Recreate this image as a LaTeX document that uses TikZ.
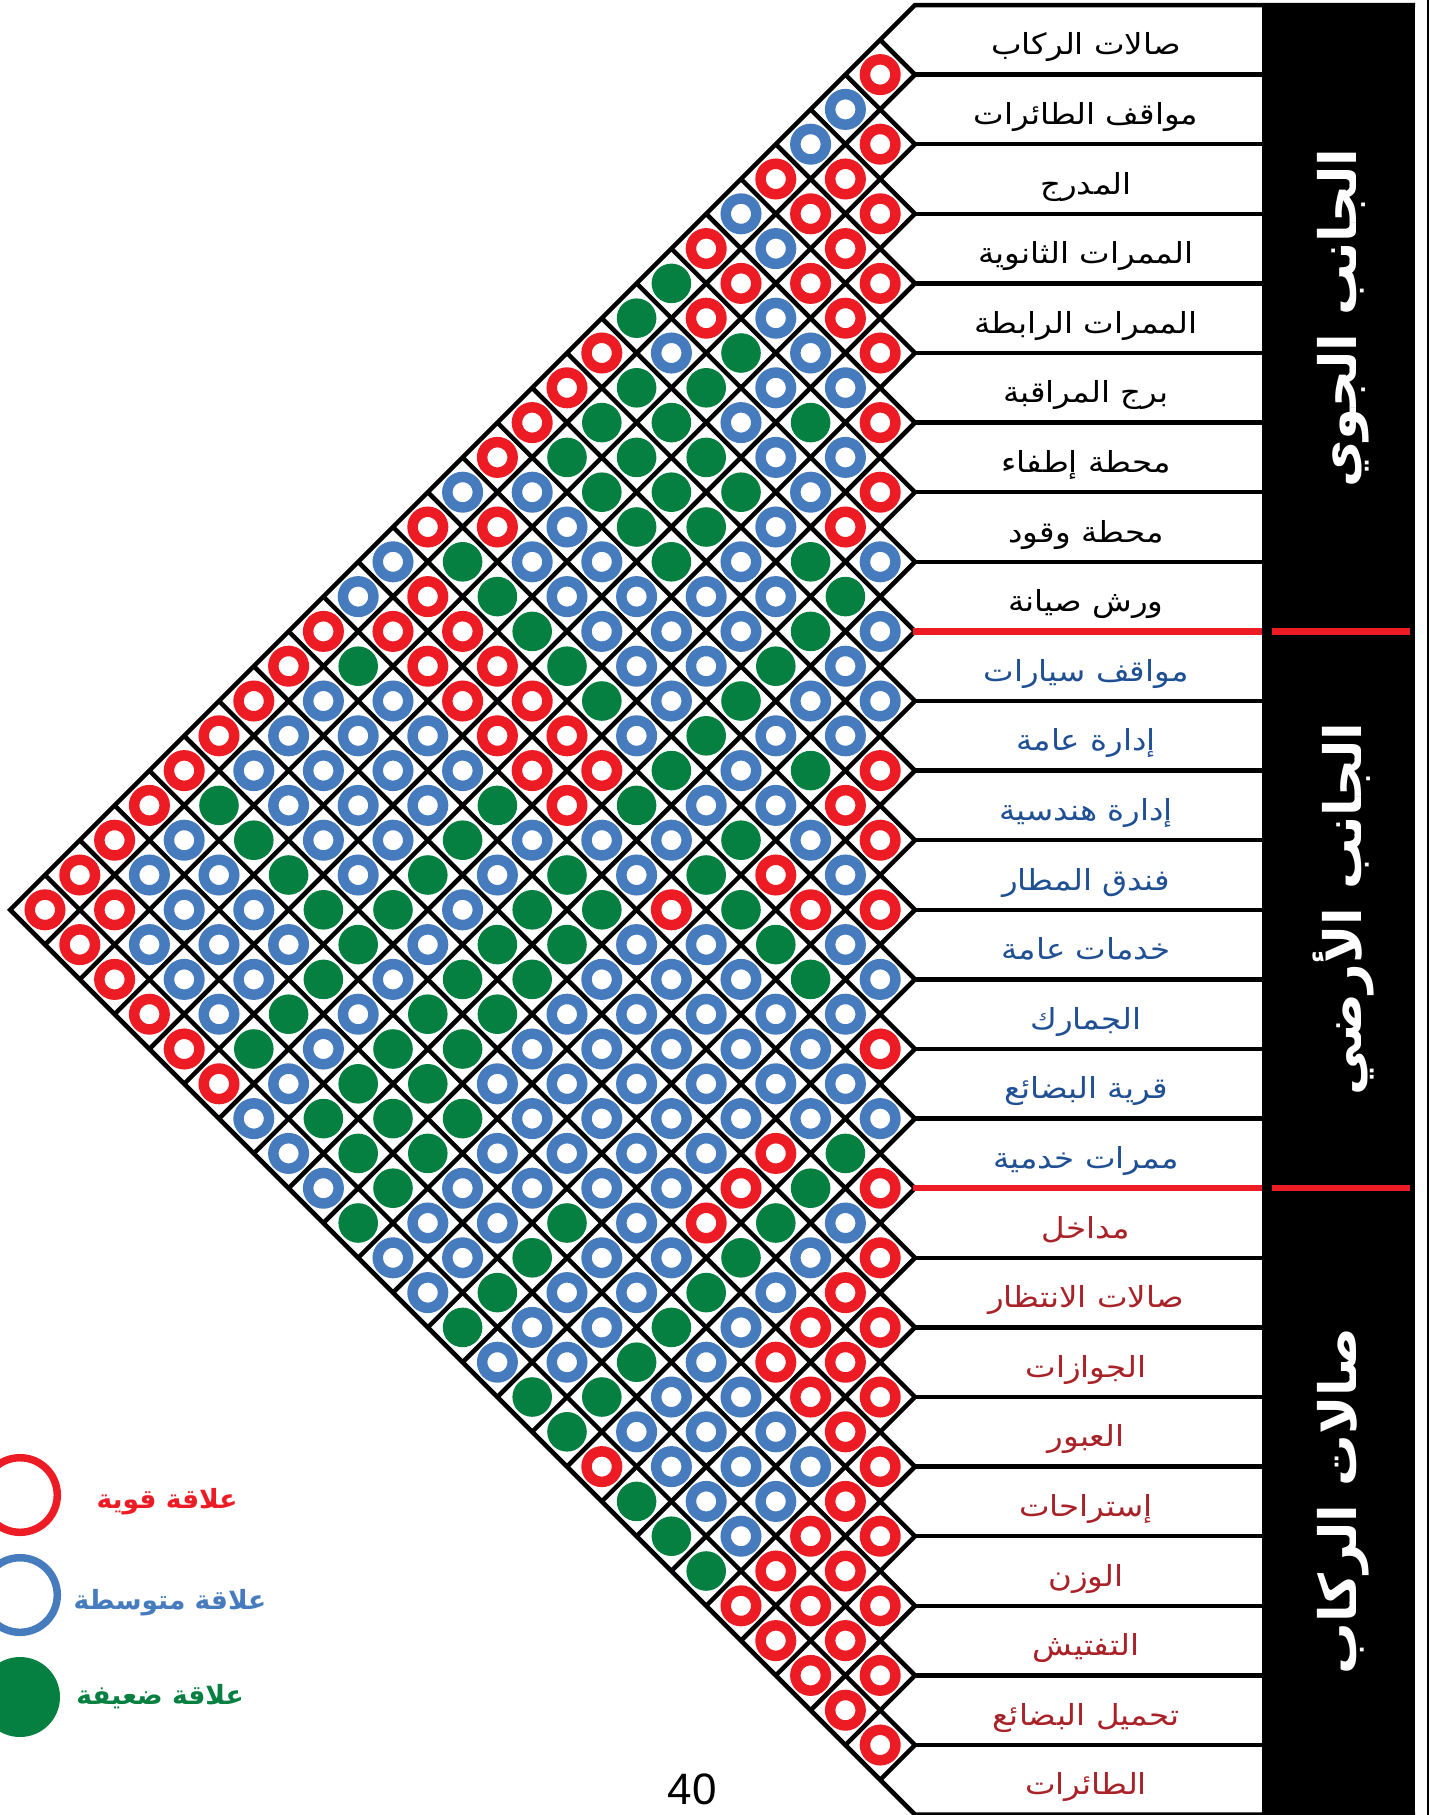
\documentclass[tikz,border=0pt]{standalone}
\usepackage{fontspec}
\setmainfont{Liberation Sans}
\newfontfamily\arabicfont[Script=Arabic]{DejaVu Sans}
\TeXXeTstate=1
\newcommand\artext[1]{{\arabicfont\beginR #1\endR}}

\definecolor{ringred}{RGB}{237,28,36}
\definecolor{ringblue}{RGB}{70,124,190}
\definecolor{diskgreen}{RGB}{6,128,64}
\definecolor{labblue}{RGB}{32,80,148}
\definecolor{labred}{RGB}{168,34,40}

\tikzset{
  gridline/.style={line width=4.5pt, black, line join=miter},
  relR/.style={circle, inner sep=0pt, minimum size=30.5pt, draw=ringred, line width=10.5pt, fill=white},
  relB/.style={circle, inner sep=0pt, minimum size=30.5pt, draw=ringblue, line width=10.5pt, fill=white},
  relG/.style={circle, inner sep=0pt, minimum size=39.6pt, fill=diskgreen},
  rowlabel/.style={font=\fontsize{29}{34}\selectfont, inner sep=0pt, anchor=base, xscale=1.12},
  bandlabel/.style={font=\fontsize{51.5}{58}\selectfont\bfseries, text=white, inner sep=0pt, rotate=90},
  keytext/.style={font=\fontsize{26.5}{32}\selectfont\bfseries, inner sep=0pt},
  separator/.style={line width=6.5pt, ringred}
}

\begin{document}
\begin{tikzpicture}[x=1pt, y=-1pt]
\useasboundingbox (0,0) rectangle (1431,1815);

% outer outline of the triangular matrix and the top / bottom rules
\draw[gridline] (1415,5) -- (915,5) -- (10.2,909.8) -- (915,1814.6) -- (1415,1814.6);

% diagonal grid lines, one pair from every row boundary
\foreach \k in {1,...,25} {
  \draw[gridline] ({915-34.8*(26-\k)},{5+34.8*(26+\k)}) -- (915,{5+69.6*\k}) -- ({915-34.8*\k},{5+34.8*\k});
}

% horizontal rules of the label column
\foreach \k in {1,...,8,10,11,...,16,18,19,...,25} {
  \draw[gridline] (915,{5+69.6*\k}) -- (1265,{5+69.6*\k});
}

% black band with the group titles
\fill[black] (1262,2.75) rectangle (1415,1815);
\draw[line width=2pt] (1428,0) -- (1428,1815);

% red rules between the three groups
\foreach \k in {9,17} {
  \draw[separator] (913,{5+69.6*\k}) -- (1262,{5+69.6*\k});
  \draw[separator] (1272,{5+69.6*\k}) -- (1410,{5+69.6*\k});
}

% relation marks, listed level by level (top to bottom), nearest column first
\foreach \lv/\cells in {
 2/{R}, 3/{B}, 4/{R,B}, 5/{R,R}, 6/{R,R,B}, 7/{R,B,R}, 8/{R,R,R,G}, 9/{R,B,R,G},
 10/{R,B,G,B,R}, 11/{B,B,G,G,R}, 12/{R,G,B,G,G,R}, 13/{B,B,G,G,G,R},
 14/{R,B,G,G,G,B,B}, 15/{R,B,G,G,B,R,R}, 16/{B,G,B,G,B,B,G,B}, 17/{G,B,B,B,B,G,R,B},
 18/{B,G,B,B,B,G,R,R,R}, 19/{B,G,B,B,G,R,R,G,R}, 20/{B,B,G,B,G,R,R,B,B,R},
 21/{B,B,G,B,R,R,B,B,B,R}, 22/{R,G,B,G,R,R,B,B,B,B,R}, 23/{R,B,B,G,R,G,B,B,B,G,R},
 24/{R,B,G,B,B,B,G,B,B,G,B,R}, 25/{B,R,G,B,G,B,G,B,G,B,B,R},
 26/{R,R,G,R,G,G,B,G,G,B,B,R,R}, 27/{B,G,B,B,G,G,B,G,B,B,B,R},
 28/{B,G,B,B,B,G,G,B,G,B,B,R}, 29/{B,B,B,B,B,G,G,B,G,B,R},
 30/{R,B,B,B,B,B,G,G,B,G,R}, 31/{B,B,B,B,B,B,G,G,B,R}, 32/{B,B,B,B,B,B,G,G,G,B},
 33/{G,R,B,B,B,B,G,G,B}, 34/{R,G,R,B,B,B,B,G,B}, 35/{B,G,R,B,G,B,B,G},
 36/{R,B,G,B,B,G,B,B}, 37/{R,B,G,B,B,G,B}, 38/{R,R,B,G,B,B,G}, 39/{R,R,B,G,B,B},
 40/{R,R,B,B,G,G}, 41/{R,B,B,B,G}, 42/{R,B,B,B,R}, 43/{R,B,B,G}, 44/{R,R,B,G},
 45/{R,R,G}, 46/{R,R,R}, 47/{R,R}, 48/{R,R}, 49/{R}, 50/{R}} {
  \pgfmathtruncatemacro\dmin{1+mod(\lv,2)}
  \foreach \rc [count=\nn] in \cells {
    \pgfmathtruncatemacro\dd{\dmin+2*(\nn-1)}
    \pgfmathtruncatemacro\ia{(\lv-1-\dd)/2}
    \pgfmathtruncatemacro\jb{(\lv-1+\dd)/2}
    \node[rel\rc] (c-\ia-\jb) at ({915-34.8*\dd},{5+34.8*\lv}) {};
  }
}

% row labels
\foreach \i/\t/\col in {
 0/{صالات الركاب}/black, 1/{مواقف الطائرات}/black, 2/{المدرج}/black,
 3/{الممرات الثانوية}/black, 4/{الممرات الرابطة}/black, 5/{برج المراقبة}/black,
 6/{محطة إطفاء}/black, 7/{محطة وقود}/black, 8/{ورش صيانة}/black,
 9/{مواقف سيارات}/labblue, 10/{إدارة عامة}/labblue, 11/{إدارة هندسية}/labblue,
 12/{فندق المطار}/labblue, 13/{خدمات عامة}/labblue, 14/{الجمارك}/labblue,
 15/{قرية البضائع}/labblue, 16/{ممرات خدمية}/labblue,
 17/{مداخل}/labred, 18/{صالات الانتظار}/labred, 19/{الجوازات}/labred,
 20/{العبور}/labred, 21/{إستراحات}/labred, 22/{الوزن}/labred,
 23/{التفتيش}/labred, 24/{تحميل البضائع}/labred, 25/{الطائرات}/labred} {
  \node[rowlabel, text=\col] (lab\i) at (1086,{5+69.6*(\i+0.5)+15}) {\artext{\t}};
}

% group titles
\node[bandlabel] (air) at (1343,318) {\artext{الجانب الجوي}};
\node[bandlabel] (land) at (1343,909) {\artext{الجانب الأرضي}};
\node[bandlabel] (term) at (1343,1501) {\artext{صالات الركاب}};

% key
\node[circle, inner sep=0pt, minimum size=74.6pt, draw=ringred, line width=7.5pt] (keyR) at (20,1495) {};
\node[circle, inner sep=0pt, minimum size=74.6pt, draw=ringblue, line width=7.5pt] (keyB) at (20,1595) {};
\node[circle, inner sep=0pt, minimum size=80pt, fill=diskgreen] (keyG) at (20,1697) {};
\node[keytext, text=ringred] (keyRt) at (167,1502) {\artext{علاقة قوية}};
\node[keytext, text=ringblue] (keyBt) at (170,1603) {\artext{علاقة متوسطة}};
\node[keytext, text=diskgreen] (keyGt) at (160,1697) {\artext{علاقة ضعيفة}};

% page number
\node[font=\fontsize{44}{50}\selectfont, inner sep=0pt] (page) at (692,1789) {40};
\end{tikzpicture}
\end{document}
